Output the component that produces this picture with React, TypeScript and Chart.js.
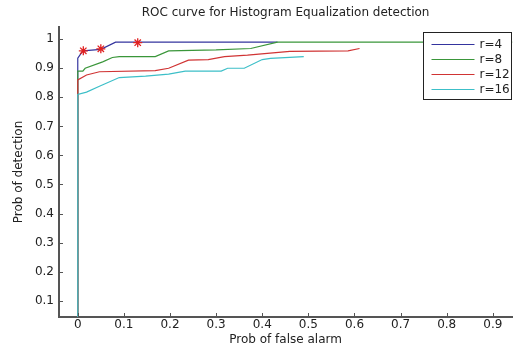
import React, { useEffect, useRef } from 'react';
import { Chart, registerables } from 'chart.js';

Chart.register(...registerables);

const FONT = "'DejaVu Sans', 'Liberation Sans', Arial, sans-serif";

const titleText = 'ROC curve for Histogram Equalization detection';
const xTitle = 'Prob of false alarm';
const yTitle = 'Prob of detection';

const seriesLabels = ['r=4', 'r=8', 'r=12', 'r=16'];
const seriesColors = ['#34349e', '#3a963a', '#d03434', '#3cbfc8'];

const r4X = [0, 0, 0.011, 0.05, 0.082, 0.13, 0.433];
const r4Y = [0, 0.935, 0.96, 0.965, 0.99, 0.99, 0.99];

const r8X = [0, 0, 0.011, 0.016, 0.054, 0.075, 0.09, 0.168, 0.197, 0.3, 0.375, 0.433, 1.0];
const r8Y = [0, 0.89, 0.89, 0.9, 0.922, 0.937, 0.94, 0.94, 0.96, 0.963, 0.968, 0.99, 0.99];

const r12X = [0, 0, 0.019, 0.047, 0.168, 0.197, 0.24, 0.283, 0.318, 0.368, 0.46, 0.586, 0.611];
const r12Y = [0, 0.86, 0.877, 0.888, 0.892, 0.9, 0.928, 0.93, 0.94, 0.945, 0.958, 0.96, 0.968];

const r16X = [0, 0, 0.019, 0.047, 0.09, 0.147, 0.197, 0.233, 0.311, 0.325, 0.361, 0.4, 0.418, 0.49];
const r16Y = [0, 0.81, 0.818, 0.838, 0.868, 0.873, 0.88, 0.89, 0.89, 0.9, 0.9, 0.93, 0.934, 0.94];

const starX = [0.012, 0.05, 0.13];
const starY = [0.96, 0.967, 0.988];

const xTicks = [0, 0.1, 0.2, 0.3, 0.4, 0.5, 0.6, 0.7, 0.8, 0.9];
const yTicks = [0.1, 0.2, 0.3, 0.4, 0.5, 0.6, 0.7, 0.8, 0.9, 1];

const xMin = -0.0407;
const xMax = 0.942;
const yMin = 0.044;
const yMax = 1.042;

const toPoints = (xs: number[], ys: number[]) => xs.map((x, i) => ({ x, y: ys[i] }));

const fmt = (v: number) => String(Math.round(v * 10) / 10);

const insideTicks = {
  id: 'insideTicks',
  afterDatasetsDraw(chart: any) {
    const { ctx, chartArea } = chart;
    const xs = chart.scales.x;
    const ys = chart.scales.y;
    ctx.save();
    ctx.strokeStyle = '#555';
    ctx.lineWidth = 1;
    ctx.beginPath();
    xTicks.forEach((v) => {
      const px = Math.round(xs.getPixelForValue(v)) + 0.5;
      ctx.moveTo(px, chartArea.bottom);
      ctx.lineTo(px, chartArea.bottom - 4);
    });
    yTicks.forEach((v) => {
      const py = Math.round(ys.getPixelForValue(v)) + 0.5;
      ctx.moveTo(chartArea.left, py);
      ctx.lineTo(chartArea.left + 4, py);
    });
    ctx.stroke();
    ctx.restore();
  },
};

const boxLegend = {
  id: 'boxLegend',
  afterDraw(chart: any) {
    const { ctx, chartArea } = chart;
    const left = Math.round(chartArea.right - 89) + 0.5;
    const top = Math.round(chartArea.top + 5) + 0.5;
    const w = 88;
    const h = 67;
    ctx.save();
    ctx.fillStyle = '#ffffff';
    ctx.fillRect(left, top, w, h);
    ctx.strokeStyle = '#222';
    ctx.lineWidth = 1;
    ctx.strokeRect(left, top, w, h);
    ctx.font = `12px ${FONT}`;
    ctx.textBaseline = 'middle';
    ctx.textAlign = 'left';
    seriesLabels.forEach((lab, i) => {
      const y = Math.round(top + 11 + i * 15.3) + 0.5;
      ctx.strokeStyle = seriesColors[i];
      ctx.beginPath();
      ctx.moveTo(left + 8, y);
      ctx.lineTo(left + 51, y);
      ctx.stroke();
      ctx.fillStyle = '#222';
      ctx.fillText(lab, left + 56, y);
    });
    ctx.restore();
  },
};

export default function App() {
  const ref = useRef<HTMLCanvasElement | null>(null);

  useEffect(() => {
    if (!ref.current) return;
    const series = [
      toPoints(r4X, r4Y),
      toPoints(r8X, r8Y),
      toPoints(r12X, r12Y),
      toPoints(r16X, r16Y),
    ];
    const datasets: any[] = series.map((data, i) => ({
      label: seriesLabels[i],
      data,
      borderColor: seriesColors[i],
      backgroundColor: seriesColors[i],
      borderWidth: 1.2,
      pointRadius: 0,
      tension: 0,
      fill: false,
      order: 4 - i,
    }));
    datasets.push({
      label: 'stars',
      data: toPoints(starX, starY),
      showLine: false,
      pointStyle: 'star',
      pointRadius: 4.5,
      borderColor: '#e02020',
      backgroundColor: '#e02020',
      pointBorderWidth: 1.3,
      order: 0,
    });

    const tickFont = { family: FONT, size: 12 };
    const chart = new Chart(ref.current, {
      type: 'line',
      data: { datasets },
      options: {
        responsive: false,
        animation: false,
        devicePixelRatio: 1,
        layout: { padding: 0 },
        plugins: {
          legend: { display: false },
          tooltip: { enabled: false },
          title: {
            display: true,
            text: titleText,
            fullSize: false,
            color: '#222',
            font: { family: FONT, size: 12, weight: 'normal' },
            padding: { top: 6, bottom: 6.6 },
          },
        },
        scales: {
          x: {
            type: 'linear',
            min: xMin,
            max: xMax,
            afterBuildTicks: (s: any) => {
              s.ticks = xTicks.map((v) => ({ value: v }));
            },
            afterFit: (s: any) => {
              s.height = 30;
            },
            grid: { display: false, drawTicks: false, tickLength: 0 },
            border: { display: true, color: '#555', width: 2 },
            ticks: {
              padding: 1,
              color: '#222',
              font: tickFont,
              maxRotation: 0,
              autoSkip: false,
              callback: (v: any) => fmt(Number(v)),
            },
            title: {
              display: true,
              text: xTitle,
              color: '#222',
              font: tickFont,
              padding: { top: 0, bottom: 0 },
            },
          },
          y: {
            type: 'linear',
            min: yMin,
            max: yMax,
            afterBuildTicks: (s: any) => {
              s.ticks = yTicks.map((v) => ({ value: v }));
            },
            afterFit: (s: any) => {
              s.width = 59;
            },
            grid: { display: false, drawTicks: false, tickLength: 0 },
            border: { display: true, color: '#555', width: 2 },
            ticks: {
              padding: 5,
              color: '#222',
              font: tickFont,
              autoSkip: false,
              callback: (v: any) => fmt(Number(v)),
            },
            title: {
              display: true,
              text: yTitle,
              color: '#222',
              font: tickFont,
              padding: { top: 12, bottom: 0 },
            },
          },
        },
      } as any,
      plugins: [insideTicks, boxLegend],
    });
    return () => chart.destroy();
  }, []);

  return (
    <div style={{ position: 'absolute', left: 0, top: 0, width: 518, height: 347, background: '#fff' }}>
      <canvas ref={ref} width={518} height={347} style={{ display: 'block' }} />
    </div>
  );
}
